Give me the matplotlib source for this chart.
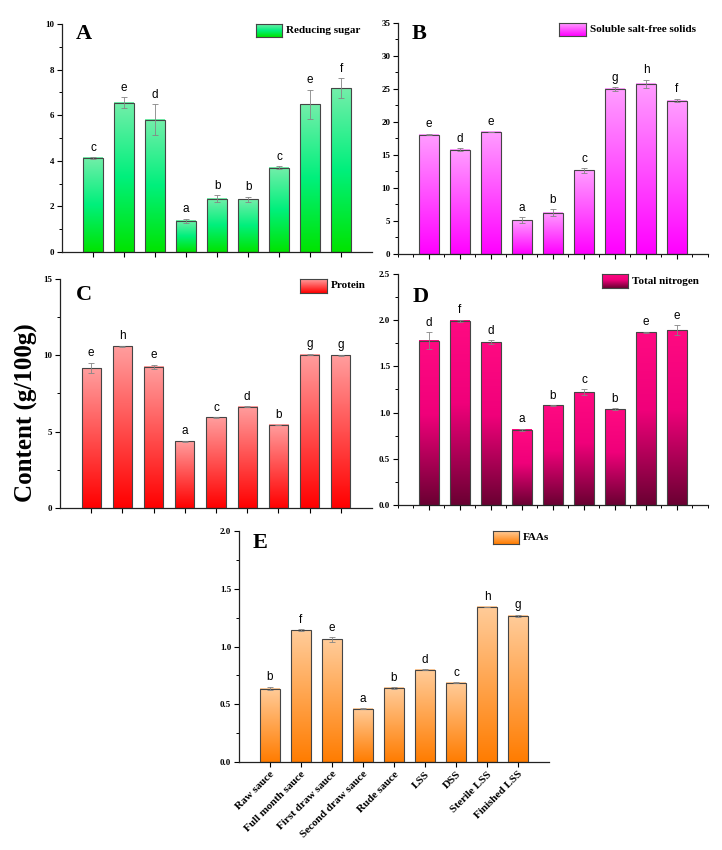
import numpy as np
import matplotlib
matplotlib.use("Agg")
import matplotlib.pyplot as plt
from matplotlib.colors import LinearSegmentedColormap
from matplotlib.ticker import MultipleLocator

plt.rcParams["font.family"] = "Liberation Serif"
plt.rcParams["font.weight"] = "bold"

samples = ["Raw sauce", "Full month sauce", "First draw sauce", "Second draw sauce",
           "Rude sauce", "LSS", "DSS", "Sterile LSS", "Finished LSS"]

sugar = [4.13, 6.55, 5.81, 1.37, 2.34, 2.32, 3.69, 6.48, 7.18]
sugar_err = [0.03, 0.23, 0.66, 0.10, 0.16, 0.11, 0.07, 0.63, 0.44]
sugar_sig = ["c", "e", "d", "a", "b", "b", "c", "e", "f"]

solids = [18.1, 15.8, 18.5, 5.15, 6.25, 12.65, 25.0, 25.8, 23.25]
solids_err = [0.15, 0.25, 0.05, 0.4, 0.5, 0.35, 0.3, 0.6, 0.25]
solids_sig = ["e", "d", "e", "a", "b", "c", "g", "h", "f"]

protein = [9.17, 10.6, 9.24, 4.37, 5.94, 6.64, 5.44, 10.04, 10.0]
protein_err = [0.33, 0.03, 0.15, 0.02, 0.02, 0.02, 0.02, 0.05, 0.03]
protein_sig = ["e", "h", "e", "a", "c", "d", "b", "g", "g"]

nitrogen = [1.777, 1.994, 1.763, 0.813, 1.077, 1.221, 1.037, 1.871, 1.893]
nitrogen_err = [0.094, 0.01, 0.02, 0.01, 0.005, 0.03, 0.01, 0.005, 0.05]
nitrogen_sig = ["d", "f", "d", "a", "b", "c", "b", "e", "e"]

faas = [0.635, 1.14, 1.062, 0.462, 0.641, 0.797, 0.687, 1.342, 1.264]
faas_err = [0.015, 0.01, 0.02, 0.003, 0.005, 0.004, 0.003, 0.003, 0.01]
faas_sig = ["b", "f", "e", "a", "b", "d", "c", "h", "g"]

cm_green = LinearSegmentedColormap.from_list("g", [(0, "#00e400"), (0.5, "#00f07c"), (1, "#74eeaa")])
cm_pink = LinearSegmentedColormap.from_list("p", [(0, "#ff00ff"), (1, "#ff9eff")])
cm_red = LinearSegmentedColormap.from_list("r", [(0, "#ff0000"), (1, "#ff9e9e")])
cm_rose = LinearSegmentedColormap.from_list("d", [(0, "#6a0032"), (0.55, "#f0007a"), (1, "#ff0a82")])
cm_orange = LinearSegmentedColormap.from_list("o", [(0, "#ff7c00"), (1, "#ffcc9a")])

fig = plt.figure(figsize=(7.22, 8.5), dpi=100)

grad = np.linspace(0, 1, 256).reshape(-1, 1)
x = np.arange(1, 10)


def panel(rect, vals, errs, sig, cmap, ymax, ystep, letter, name, letter_pos, leg, minor_x=False, xlabels=None):
    ax = fig.add_axes(rect)
    w = 0.62
    for xi, v in zip(x, vals):
        ax.imshow(grad, extent=[xi - w / 2, xi + w / 2, 0, v], origin="lower",
                  cmap=cmap, aspect="auto", zorder=2)
    ax.bar(x, vals, w, facecolor="none", edgecolor="#454545", linewidth=0.8, zorder=3)
    ax.errorbar(x, vals, yerr=errs, fmt="none", ecolor="#858585", elinewidth=0.6,
                capsize=2, capthick=0.6, zorder=4)
    for xi, v, e, s in zip(x, vals, errs, sig):
        ax.annotate(s, (xi, v + e), xytext=(0, 2.5), textcoords="offset points",
                    ha="center", va="bottom", fontsize=8.5, family="Liberation Sans",
                    fontweight="normal")
    ax.set_xlim(0, 10)
    ax.set_ylim(0, ymax)
    ax.spines[["top", "right"]].set_visible(False)
    for sp in ax.spines.values():
        sp.set_linewidth(0.9)
        sp.set_color("#222222")
    ax.set_yticks(np.arange(0, ymax + ystep / 2, ystep))
    ax.yaxis.set_minor_locator(MultipleLocator(ystep / 2))
    ax.set_xticks(x)
    if minor_x:
        ax.xaxis.set_minor_locator(MultipleLocator(0.5))
    ax.tick_params(which="major", length=3.5, width=0.8, labelsize=6.5, pad=2)
    ax.tick_params(which="minor", length=2, width=0.7)
    if ystep < 1:
        ax.set_yticklabels([f"{t:.1f}" for t in ax.get_yticks()])
    else:
        ax.set_yticklabels([f"{int(t)}" for t in ax.get_yticks()])
    if xlabels is None:
        ax.set_xticklabels([])
    else:
        ax.set_xticklabels(xlabels, rotation=45, ha="right", rotation_mode="anchor",
                           fontsize=8)
    ax.text(letter_pos[0], letter_pos[1], letter, transform=ax.transAxes,
            fontsize=16, fontweight="bold", va="baseline", ha="left")
    # legend swatch with the same gradient
    lx0, lx1, ly0 = leg
    sw = ax.inset_axes([lx0, ly0, lx1 - lx0, 1 - ly0])
    sw.imshow(grad, origin="lower", cmap=cmap, aspect="auto")
    sw.set_xticks([])
    sw.set_yticks([])
    for sp in sw.spines.values():
        sp.set_color("#454545")
        sp.set_linewidth(0.8)
    ax.text(lx1 + 0.012, (1 + ly0) / 2, name, transform=ax.transAxes,
            fontsize=8, fontweight="bold", va="center", ha="left")
    return ax


panel([0.0859, 0.7035, 0.4294, 0.2683], sugar, sugar_err, sugar_sig, cm_green, 10, 2,
      "A", "Reducing sugar", (0.045, 0.934), (0.626, 0.71, 0.943))
panel([0.5512, 0.7012, 0.4294, 0.2718], solids, solids_err, solids_sig, cm_pink, 35, 5,
      "B", "Soluble salt-free solids", (0.045, 0.93), (0.519, 0.606, 0.944), minor_x=True)
panel([0.0831, 0.4024, 0.4321, 0.2694], protein, protein_err, protein_sig, cm_red, 15, 5,
      "C", "Protein", (0.051, 0.908), (0.769, 0.856, 0.939))
panel([0.5512, 0.4059, 0.4294, 0.2718], nitrogen, nitrogen_err, nitrogen_sig, cm_rose, 2.5, 0.5,
      "D", "Total nitrogen", (0.048, 0.879), (0.658, 0.742, 0.939), minor_x=True)
panel([0.331, 0.1035, 0.4294, 0.2718], faas, faas_err, faas_sig, cm_orange, 2.0, 0.5,
      "E", "FAAs", (0.045, 0.926), (0.819, 0.903, 0.944), xlabels=samples)

fig.text(0.036, 0.514, "Content (g/100g)", rotation=90, ha="center", va="center",
         fontsize=18, fontweight="bold")

fig.savefig("out.png", dpi=100)
